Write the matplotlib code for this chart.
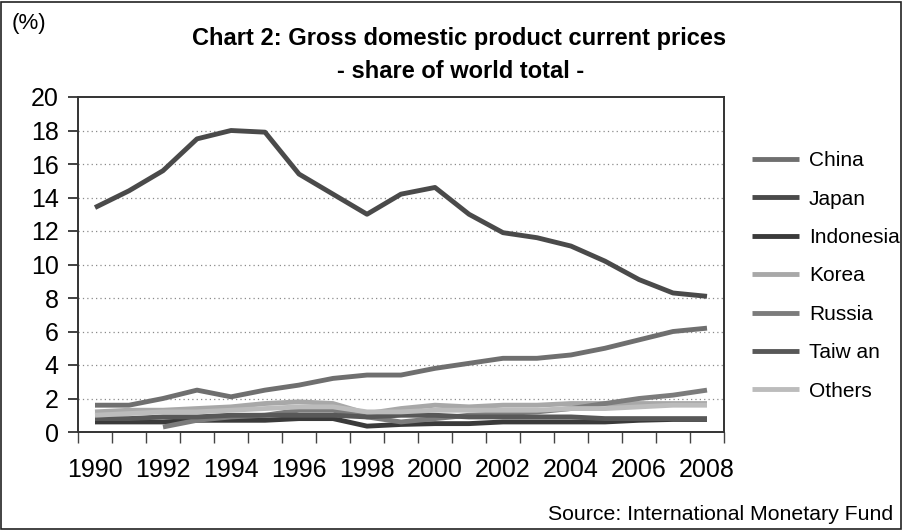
import matplotlib
matplotlib.use("Agg")
import matplotlib.pyplot as plt
from matplotlib.patches import Rectangle

plt.rcParams['font.family'] = ['Liberation Sans', 'DejaVu Sans']

years = list(range(1990, 2009))
china = [1.6, 1.6, 2.0, 2.5, 2.1, 2.5, 2.8, 3.2, 3.4, 3.4, 3.8, 4.1, 4.4, 4.4, 4.6, 5.0, 5.5, 6.0, 6.2]
japan = [13.4, 14.4, 15.6, 17.5, 18.0, 17.9, 15.4, 14.2, 13.0, 14.2, 14.6, 13.0, 11.9, 11.6, 11.1, 10.2, 9.1, 8.3, 8.1]
indonesia = [0.6, 0.6, 0.6, 0.7, 0.7, 0.7, 0.8, 0.8, 0.35, 0.45, 0.5, 0.5, 0.6, 0.6, 0.6, 0.6, 0.7, 0.75, 0.75]
korea = [1.2, 1.3, 1.3, 1.4, 1.5, 1.7, 1.8, 1.7, 1.1, 1.4, 1.6, 1.5, 1.6, 1.6, 1.7, 1.7, 1.7, 1.7, 1.7]
russia = [None, None, 0.3, 0.7, 0.9, 1.0, 1.3, 1.3, 0.9, 0.6, 0.8, 1.0, 1.1, 1.2, 1.4, 1.7, 2.0, 2.2, 2.5]
taiwan = [0.8, 0.8, 0.9, 0.9, 1.0, 1.0, 1.0, 1.0, 0.9, 1.0, 1.0, 0.9, 0.9, 0.9, 0.9, 0.8, 0.8, 0.8, 0.8]
others = [1.0, 1.1, 1.2, 1.2, 1.3, 1.4, 1.5, 1.5, 1.2, 1.2, 1.3, 1.3, 1.3, 1.3, 1.4, 1.4, 1.5, 1.6, 1.6]

series = [
    ("China", china, "#6f6f6f"),
    ("Japan", japan, "#4a4a4a"),
    ("Indonesia", indonesia, "#3a3a3a"),
    ("Korea", korea, "#a8a8a8"),
    ("Russia", russia, "#7c7c7c"),
    ("Taiw an", taiwan, "#585858"),
    ("Others", others, "#bcbcbc"),
]

W, H = 903, 530
fig = plt.figure(figsize=(W / 100, H / 100), dpi=100)
fig.patch.set_facecolor("white")
fig.add_artist(Rectangle((1.5 / W, 1.5 / H), 1 - 3 / W, 1 - 3 / H, transform=fig.transFigure,
                         fill=False, edgecolor="#222222", linewidth=1.2))

ax = fig.add_axes([78 / W, 1 - 432 / H, (724 - 78) / W, (432 - 97) / H])
x = list(range(len(years)))
for name, vals, col in series:
    xs = [i for i, v in zip(x, vals) if v is not None]
    ys = [v for v in vals if v is not None]
    ax.plot(xs, ys, color=col, linewidth=3.5, label=name, solid_capstyle="butt")

ax.set_xlim(-0.5, len(years) - 0.5)
ax.set_ylim(0, 20)
ax.set_yticks(range(0, 21, 2))
ax.tick_params(axis="y", direction="out", length=7, width=1.3, color="#333333",
               labelsize=18, pad=7)
for yv in range(2, 20, 2):
    ax.axhline(yv, color="#8a8a8a", linestyle=(0, (1, 2.5)), linewidth=0.9, zorder=0)

ax.set_xticks([i - 0.5 for i in range(len(years) + 1)])
ax.set_xticklabels([])
ax.tick_params(axis="x", which="major", direction="out", length=8, width=1.0, color="#444444")
ax.set_xticks([i for i in x if years[i] % 2 == 0], minor=True)
ax.set_xticklabels([str(y) for y in years if y % 2 == 0], minor=True)
ax.tick_params(axis="x", which="minor", length=0, labelsize=18, pad=19)

for s in ax.spines.values():
    s.set_color("#333333")
    s.set_linewidth(1.4)

fig.text(12 / W, 1 - 23 / H, "(%)", fontsize=16, va="center", ha="left")
fig.text(459 / W, 1 - 39 / H, "Chart 2: Gross domestic product current prices",
         fontsize=17, fontweight="bold", ha="center", va="center")
fig.text(461 / W, 1 - 72 / H, "- share of world total -",
         fontsize=17, fontweight="bold", ha="center", va="center")
fig.text(893 / W, 1 - 514 / H, "Source: International Monetary Fund",
         fontsize=15.3, ha="right", va="center")

handles, labels = ax.get_legend_handles_labels()
fig.legend(handles, labels, loc="upper left", bbox_to_anchor=(744 / W, 1 - 143 / H),
           frameon=False, fontsize=15, handlelength=2.26, handletextpad=0.45,
           labelspacing=0.93, borderaxespad=0)

fig.savefig("out.png", dpi=100)
